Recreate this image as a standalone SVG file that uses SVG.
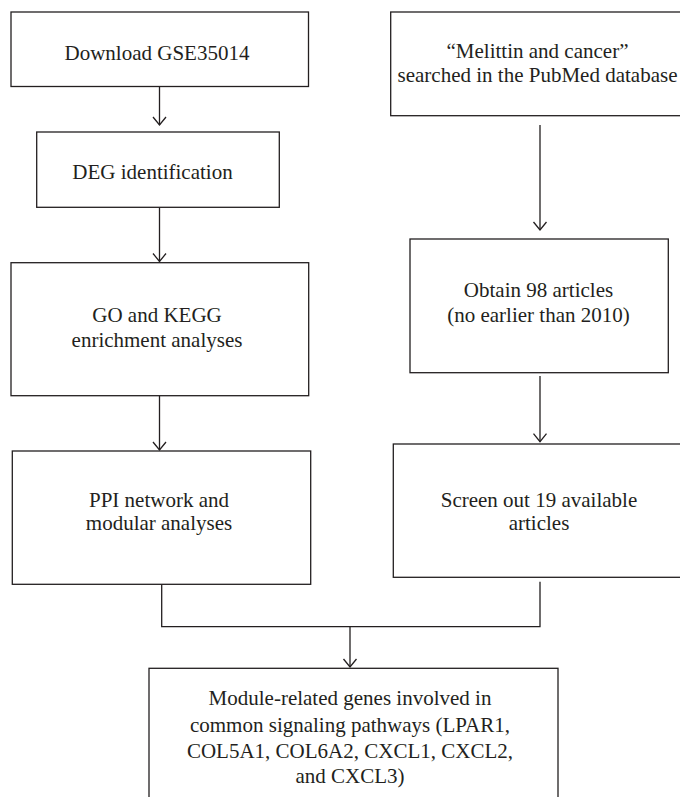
<svg xmlns="http://www.w3.org/2000/svg" width="680" height="797" viewBox="0 0 680 797">
<defs>
<style>
.box{fill:#fff;stroke:#231f20;stroke-width:1.3}
text{font-family:'Liberation Serif','DejaVu Serif',serif;font-size:21px;fill:#231f20;text-anchor:middle}
.c{fill:none;stroke:#231f20;stroke-width:1.3}
</style>
<marker id="ah" markerUnits="userSpaceOnUse" orient="auto" refX="0" refY="0" markerWidth="20" markerHeight="20" overflow="visible">
<path d="M-8,-6.5 L0,0 L-8,6.5" fill="none" stroke="#231f20" stroke-width="1.3"/>
</marker>
</defs>
<rect width="680" height="797" fill="#fff"/>
<g id="connectors">
<line class="c" x1="159.5" y1="86.5" x2="159.5" y2="125" marker-end="url(#ah)"/>
<line class="c" x1="159.5" y1="207.3" x2="159.5" y2="261.5" marker-end="url(#ah)"/>
<line class="c" x1="159.5" y1="395.7" x2="159.5" y2="450" marker-end="url(#ah)"/>
<line class="c" x1="540" y1="125" x2="540" y2="230" marker-end="url(#ah)"/>
<line class="c" x1="540" y1="376" x2="540" y2="441.7" marker-end="url(#ah)"/>
<polyline class="c" points="161.7,584.3 161.7,626.7 540,626.7 540,581.7"/>
<line class="c" x1="350" y1="626.7" x2="350" y2="667" marker-end="url(#ah)"/>
</g>
<g id="download">
<rect class="box" x="11" y="12" width="297.5" height="74.5"/>
<text x="157" y="60" font-family="Liberation Serif, serif">Download GSE35014</text>
</g>
<g id="deg">
<rect class="box" x="36.7" y="132" width="242.6" height="75.3"/>
<text x="152.5" y="179" font-family="Liberation Serif, serif">DEG identification</text>
</g>
<g id="go-kegg">
<rect class="box" x="11" y="262.7" width="297.7" height="133"/>
<text x="157" y="321.7">GO and KEGG</text>
<text x="157" y="346.7">enrichment analyses</text>
</g>
<g id="ppi">
<rect class="box" x="12.3" y="451" width="298.4" height="133.3"/>
<text x="159" y="506.7">PPI network and</text>
<text x="159" y="530">modular analyses</text>
</g>
<g id="pubmed">
<rect class="box" x="390.7" y="12" width="300" height="103.7"/>
<text x="537.5" y="58.3">“Melittin and cancer”</text>
<text x="537.5" y="81.7">searched in the PubMed database</text>
</g>
<g id="obtain">
<rect class="box" x="410" y="239" width="258.3" height="133.7"/>
<text x="538.5" y="296.7">Obtain 98 articles</text>
<text x="538.5" y="321.7">(no earlier than 2010)</text>
</g>
<g id="screen">
<rect class="box" x="393.3" y="444" width="300" height="133.3"/>
<text x="539" y="506.7">Screen out 19 available</text>
<text x="539" y="530">articles</text>
</g>
<g id="module">
<rect class="box" x="149" y="668.3" width="409" height="140"/>
<text x="350" y="705">Module-related genes involved in</text>
<text x="350" y="731.7">common signaling pathways (LPAR1,</text>
<text x="350" y="758.3">COL5A1, COL6A2, CXCL1, CXCL2,</text>
<text x="350" y="783.3">and CXCL3)</text>
</g>
</svg>
